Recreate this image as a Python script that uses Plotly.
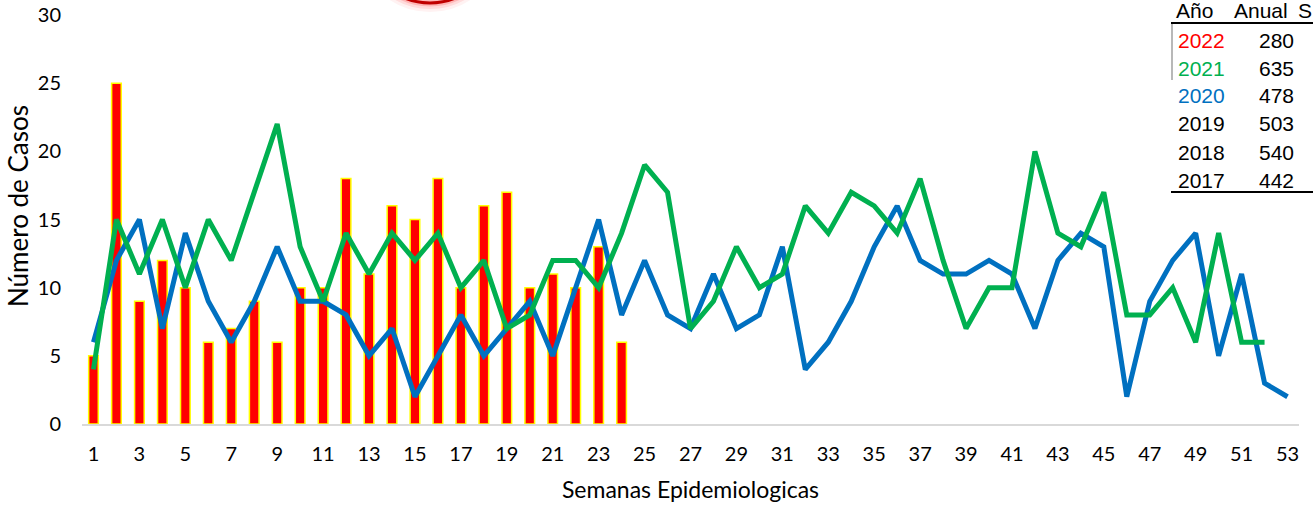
import plotly.graph_objects as go

weeks_2022 = list(range(1, 25))
cases_2022 = [5, 25, 9, 12, 10, 6, 7, 9, 6, 10, 10, 18, 11, 16, 15, 18, 10, 16, 17, 10, 11, 10, 13, 6]

weeks_2021 = list(range(1, 53))
cases_2021 = [4, 15, 11, 15, 10, 15, 12, 17, 22, 13, 9, 14, 11, 14, 12, 14, 10, 12, 7, 8,
              12, 12, 10, 14, 19, 17, 7, 9, 13, 10, 11, 16, 14, 17, 16, 14, 18, 12, 7, 10,
              10, 20, 14, 13, 17, 8, 8, 10, 6, 14, 6, 6]

weeks_2020 = list(range(1, 54))
cases_2020 = [6, 12, 15, 7, 14, 9, 6, 9, 13, 9, 9, 8, 5, 7, 2, 5, 8, 5, 7, 9,
              5, 10, 15, 8, 12, 8, 7, 11, 7, 8, 13, 4, 6, 9, 13, 16, 12, 11, 11, 12,
              11, 7, 12, 14, 13, 2, 9, 12, 14, 5, 11, 3, 2]

tick_weeks = list(range(1, 54, 2))

table_years = ["2022", "2021", "2020", "2019", "2018", "2017"]
table_totals = ["280", "635", "478", "503", "540", "442"]
table_colors = ["#ff0000", "#00b050", "#0070c0", "#000000", "#000000", "#000000"]

W, H = 1313, 511
L, R, T, B = 82, 14, 15, 87
PW, PH = W - L - R, H - T - B

def px_x(x):
    return (x - L) / PW

def px_y(y):
    return (H - B - y) / PH

fig = go.Figure()
fig.add_trace(go.Bar(x=weeks_2022, y=cases_2022, width=0.42,
                     marker=dict(color="#ff0000", line=dict(color="#ffff00", width=1.5)),
                     name="2022"))
fig.add_trace(go.Scatter(x=weeks_2020, y=cases_2020, mode="lines",
                         line=dict(color="#0070c0", width=5), name="2020"))
fig.add_trace(go.Scatter(x=weeks_2021, y=cases_2021, mode="lines",
                         line=dict(color="#00b050", width=5), name="2021"))

tick_font = dict(family="Lato, Open Sans, sans-serif", size=20, color="#000000")

fig.update_layout(
    width=W, height=H,
    margin=dict(l=L, r=R, t=T, b=B, autoexpand=False),
    paper_bgcolor="white", plot_bgcolor="white",
    showlegend=False,
    xaxis=dict(range=[0.5, 53.5], tickmode="array", tickvals=tick_weeks,
               ticktext=[str(v) for v in tick_weeks], showgrid=False, zeroline=False,
               showline=True, linecolor="#d9d9d9", linewidth=2, ticks="",
               ticklabelstandoff=11, tickfont=tick_font,
               title=dict(text="Semanas Epidemiologicas", standoff=18,
                          font=dict(family="Lato, Open Sans, sans-serif", size=23, color="#000000"))),
    yaxis=dict(range=[0, 30], dtick=5, showgrid=False, zeroline=False, showline=False,
               ticks="", ticklabelstandoff=20, tickfont=tick_font),
)

# Y axis title placed as rotated text
fig.add_annotation(x=px_x(18), y=px_y(206), xref="paper", yref="paper", text="Número de Casos",
                   textangle=-90, showarrow=False, xanchor="center", yanchor="middle",
                   font=dict(family="Lato, Open Sans, sans-serif", size=26, color="#000000"))

# Decorative red circle (partially visible at top)
cx0, cx1, cy0, cy1 = 366, 494, -125, 3
for w, col in [(18, "rgba(255,0,0,0.05)"), (12, "rgba(255,0,0,0.09)"), (7, "rgba(255,0,0,0.16)"), (3, "#c00000")]:
    fig.add_shape(type="circle", xref="paper", yref="paper",
                  x0=px_x(cx0), x1=px_x(cx1), y0=px_y(cy1), y1=px_y(cy0),
                  line=dict(color=col, width=w), fillcolor="rgba(0,0,0,0)", layer="above")

# Table
tfont = "Liberation Sans, Arial, sans-serif"
fs = 21
fig.add_annotation(x=px_x(1174), y=px_y(11), xref="paper", yref="paper", text="Año",
                   showarrow=False, xanchor="left", yanchor="middle",
                   font=dict(family=tfont, size=fs, color="#000000"))
fig.add_annotation(x=px_x(1261), y=px_y(11), xref="paper", yref="paper", text="Anual",
                   showarrow=False, xanchor="center", yanchor="middle",
                   font=dict(family=tfont, size=fs, color="#000000"))
fig.add_annotation(x=px_x(1296), y=px_y(11), xref="paper", yref="paper", text="S",
                   showarrow=False, xanchor="left", yanchor="middle",
                   font=dict(family=tfont, size=fs, color="#000000"))
row_y = [40, 68, 96, 124, 152, 180]
for yr, tot, col, ry in zip(table_years, table_totals, table_colors, row_y):
    fig.add_annotation(x=px_x(1176), y=px_y(ry), xref="paper", yref="paper", text=yr,
                       showarrow=False, xanchor="left", yanchor="middle",
                       font=dict(family=tfont, size=fs, color=col))
    fig.add_annotation(x=px_x(1276), y=px_y(ry), xref="paper", yref="paper", text=tot,
                       showarrow=False, xanchor="center", yanchor="middle",
                       font=dict(family=tfont, size=fs, color="#000000"))
fig.add_shape(type="line", xref="paper", yref="paper", x0=px_x(1171), x1=px_x(1313),
              y0=px_y(23), y1=px_y(23), line=dict(color="#000000", width=2))
fig.add_shape(type="line", xref="paper", yref="paper", x0=px_x(1171), x1=px_x(1313),
              y0=px_y(192), y1=px_y(192), line=dict(color="#000000", width=2))
fig.add_shape(type="line", xref="paper", yref="paper", x0=px_x(1172), x1=px_x(1172),
              y0=px_y(24), y1=px_y(80), line=dict(color="#a0a0a0", width=1.5))

fig.write_html("out.html", config={"displayModeBar": False},
               post_script="document.body.style.margin='0';")
